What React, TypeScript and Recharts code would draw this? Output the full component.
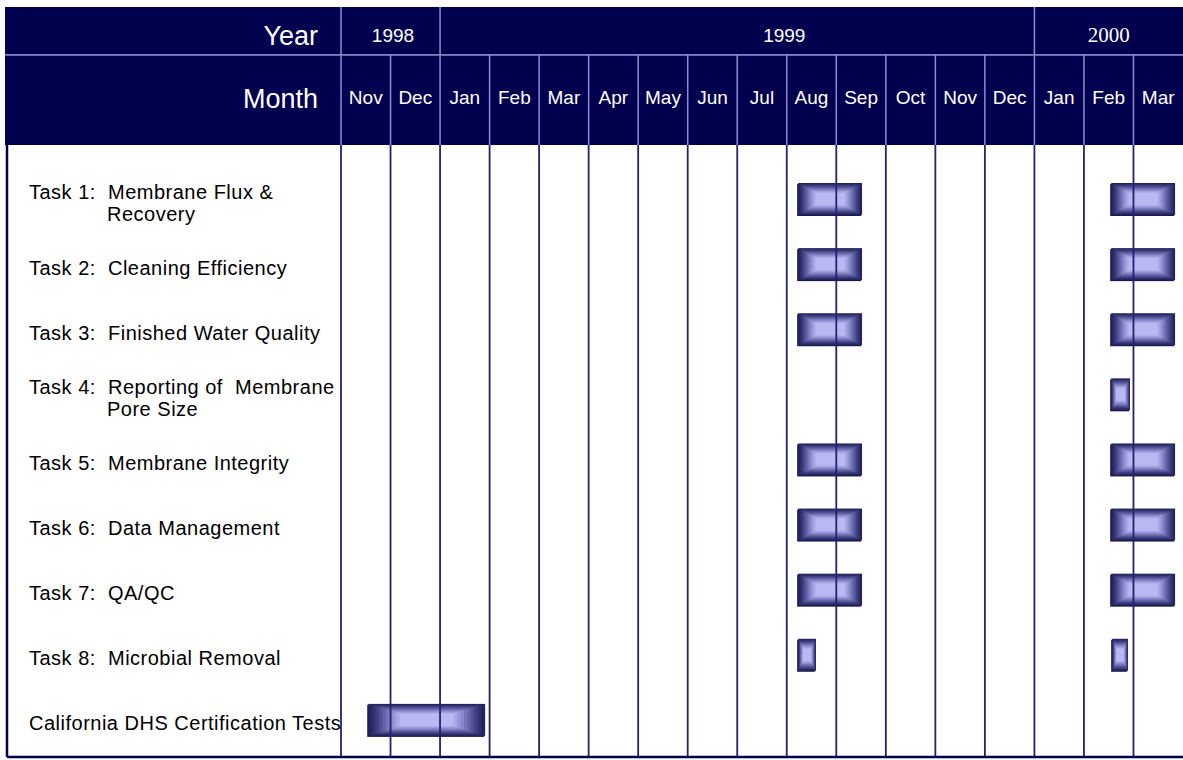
import React from 'react';
import { BarChart, Bar, XAxis, YAxis, ReferenceLine } from 'recharts';

// month columns, Nov 1998 = 0
const months = ['Nov', 'Dec', 'Jan', 'Feb', 'Mar', 'Apr', 'May', 'Jun', 'Jul', 'Aug', 'Sep', 'Oct', 'Nov', 'Dec', 'Jan', 'Feb', 'Mar'];
const years = ['1998', '1999', '2000'];
const yearStart = [0, 2, 14];
const yearEnd = [2, 14, 17];
const yearLabelAt = [1.05, 8.95, 15.5];

const tasks = [
  'Task 1:  Membrane Flux &\nRecovery',
  'Task 2:  Cleaning Efficiency',
  'Task 3:  Finished Water Quality',
  'Task 4:  Reporting of  Membrane\nPore Size',
  'Task 5:  Membrane Integrity',
  'Task 6:  Data Management',
  'Task 7:  QA/QC',
  'Task 8:  Microbial Removal',
  'California DHS Certification Tests',
];

// start / end in months from the start of Nov 1998
const phase1Start = [9.23, 9.23, 9.23, null, 9.23, 9.23, 9.23, 9.23, 0.55];
const phase1End = [10.52, 10.52, 10.52, null, 10.52, 10.52, 10.52, 9.59, 2.91];
const phase2Start = [15.55, 15.55, 15.55, 15.55, 15.55, 15.55, 15.55, 15.57, null];
const phase2End = [16.84, 16.84, 16.84, 15.93, 16.84, 16.84, 16.84, 15.89, null];

const data = tasks.map((task, i) => ({
  task,
  phase1: phase1Start[i] == null ? null : [phase1Start[i], phase1End[i]],
  phase2: phase2Start[i] == null ? null : [phase2Start[i], phase2End[i]],
}));

const NAVY = '#00004f';
const LAV = '#8c8cd2';
const GRID = '#22226e';
const FONT = 'Arial, "Liberation Sans", sans-serif';

const W = 1183;
const H = 760;
const TOP = 7;
const YEAR_H = 48;
const MONTH_H = 90;
const LABEL_W = 341;
const HEAD_LEFT = 5;
const PLOT_TOP = TOP + YEAR_H + MONTH_H;
const PLOT_BOTTOM = H - 3;

const SHADES = ['#24245e', '#30306d', '#3f3f7f', '#505092', '#6262a6', '#7575b9', '#8888ca', '#9a9ad9', '#aaaae7', '#b8b8f3'];

function BevelBar(props: any) {
  const { x, y, width, height } = props;
  if (![x, y, width, height].every(Number.isFinite) || width <= 0 || height <= 0) return null;
  const n = SHADES.length;
  return (
    <g>
      <rect x={x - 1} y={y + 1} width={width} height={height} fill="#18184c" />
      {SHADES.map((c, i) => {
        const dx = (width * 0.3 * i) / n;
        const dy = (height * 0.34 * i) / n;
        return <rect key={i} x={x + dx} y={y + dy} width={width - 2 * dx} height={height - 2 * dy} fill={c} />;
      })}
    </g>
  );
}

function unitOf(width: any) {
  return (Number.isFinite(width) ? width : W - LABEL_W) / months.length;
}

function MonthTick(props: any) {
  const { x, index, width } = props;
  const unit = unitOf(width);
  const left = x - unit / 2;
  const y0 = TOP + YEAR_H;
  const y1 = y0 + MONTH_H;
  return (
    <g>
      {index === 0 && (
        <>
          <rect x={HEAD_LEFT} y={y0} width={left - HEAD_LEFT} height={MONTH_H} fill={NAVY} />
          <line x1={HEAD_LEFT} x2={left} y1={y0} y2={y0} stroke={LAV} strokeWidth={1.5} />
          <text x={318} y={108} textAnchor="end" fill="#fff" fontSize={27} fontFamily={FONT}>Month</text>
        </>
      )}
      <rect x={left} y={y0} width={unit} height={MONTH_H} fill={NAVY} />
      <line x1={left} x2={left + unit} y1={y0} y2={y0} stroke={LAV} strokeWidth={1.5} />
      <line x1={left} x2={left} y1={y0} y2={y1} stroke={LAV} strokeWidth={1.5} />
      <text x={x} y={104} textAnchor="middle" fill="#fff" fontSize={19} fontFamily={FONT}>{months[index]}</text>
    </g>
  );
}

function YearTick(props: any) {
  const { x, index, width, payload } = props;
  const unit = unitOf(width);
  const origin = x - payload.value * unit;
  const left = origin + yearStart[index] * unit;
  const right = origin + yearEnd[index] * unit;
  const serif = index === 2;
  return (
    <g>
      {index === 0 && (
        <>
          <rect x={HEAD_LEFT} y={TOP} width={left - HEAD_LEFT} height={YEAR_H - 0.75} fill={NAVY} />
          <text x={318} y={45} textAnchor="end" fill="#fff" fontSize={27} fontFamily={FONT}>Year</text>
        </>
      )}
      <rect x={left} y={TOP} width={right - left} height={YEAR_H - 0.75} fill={NAVY} />
      <line x1={left} x2={left} y1={TOP} y2={TOP + YEAR_H} stroke={LAV} strokeWidth={1.5} />
      <text
        x={x}
        y={42}
        textAnchor="middle"
        fill="#fff"
        fontSize={serif ? 21 : 19}
        fontFamily={serif ? '"Times New Roman", "Liberation Serif", serif' : FONT}
      >
        {years[index]}
      </text>
    </g>
  );
}

function TaskTick(props: any) {
  const { y, payload, index } = props;
  const lines = String(payload.value).split('\n');
  const multi = lines.length > 1;
  return (
    <g>
      {index === 0 && (
        <>
          <line x1={7} x2={7} y1={PLOT_TOP} y2={PLOT_BOTTOM} stroke={NAVY} strokeWidth={2.5} />
          <line x1={7} x2={LABEL_W} y1={PLOT_BOTTOM} y2={PLOT_BOTTOM} stroke={NAVY} strokeWidth={2.5} />
        </>
      )}
      <text fontSize={20} fontFamily={FONT} letterSpacing={0.5} fill="#000" style={{ whiteSpace: 'pre' }}>
        {lines.map((ln, i) => (
          <tspan key={i} x={i === 0 ? 29 : 107} y={multi ? y + i * 22 : y + 11}>
            {ln}
          </tspan>
        ))}
      </text>
    </g>
  );
}

export default function App() {
  return (
    <div style={{ position: 'absolute', left: 0, top: 0, width: W, height: H, background: '#fff' }}>
      <BarChart
        width={W}
        height={H}
        data={data}
        layout="vertical"
        margin={{ top: TOP, right: 0, bottom: 0, left: 0 }}
        barSize={32}
        barGap={-32}
      >
        <XAxis
          xAxisId="main"
          type="number"
          domain={[0, months.length]}
          allowDataOverflow
          orientation="bottom"
          height={3}
          tick={false}
          tickLine={false}
          axisLine={{ stroke: NAVY, strokeWidth: 2.5 }}
        />
        <XAxis
          xAxisId="month"
          type="number"
          domain={[0, months.length]}
          allowDataOverflow
          orientation="top"
          height={MONTH_H}
          ticks={months.map((_, i) => i + 0.5)}
          interval={0}
          tick={(p: any) => <MonthTick {...p} />}
          tickLine={false}
          axisLine={false}
        />
        <XAxis
          xAxisId="year"
          type="number"
          domain={[0, months.length]}
          allowDataOverflow
          orientation="top"
          height={YEAR_H}
          ticks={yearLabelAt}
          interval={0}
          tick={(p: any) => <YearTick {...p} />}
          tickLine={false}
          axisLine={false}
        />
        <YAxis
          type="category"
          dataKey="task"
          width={LABEL_W}
          padding={{ top: 21, bottom: 5 }}
          tick={(p: any) => <TaskTick {...p} />}
          tickLine={false}
          axisLine={false}
          interval={0}
        />
        {months.map((_, i) => (
          <ReferenceLine key={i} xAxisId="main" x={i} stroke={GRID} strokeWidth={1.8} />
        ))}
        <Bar xAxisId="main" dataKey="phase1" shape={(p: any) => <BevelBar {...p} />} isAnimationActive={false} />
        <Bar xAxisId="main" dataKey="phase2" shape={(p: any) => <BevelBar {...p} />} isAnimationActive={false} />
      </BarChart>
    </div>
  );
}
